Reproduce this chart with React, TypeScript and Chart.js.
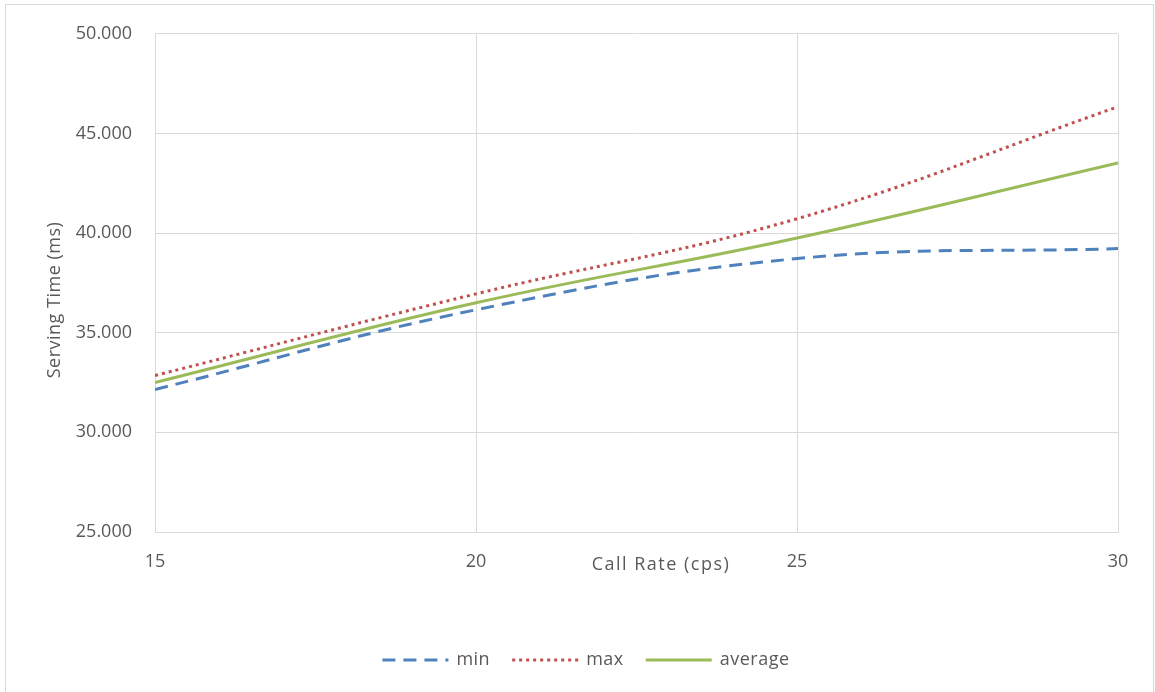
import React, { useEffect, useRef } from "react";
import { Chart, registerables } from "chart.js";

Chart.register(...registerables);

// Call rate (cps) and serving time (ms) per series
const callRates = [15, 20, 25, 30];
const minTimes = [32.15, 36.15, 38.72, 39.22];
const maxTimes = [32.85, 36.95, 40.72, 46.34];
const averageTimes = [32.5, 36.5, 39.75, 43.52];

const xTicks = [15, 20, 25, 30];
const yMin = 25;
const yMax = 50;
const yStep = 5;

const xTitle = "Call Rate (cps)";
const yTitle = "Serving Time (ms)";

const FONT = "'Open Sans', 'DejaVu Sans', sans-serif";
const TEXT_COLOR = "#595959";
const GRID_COLOR = "#D9D9D9";

const BLUE = "#4F81BD";
const RED = "#C0504D";
const GREEN = "#9BBB59";

const seriesDefs = [
  { label: "min", data: minTimes, color: BLUE, dash: [13, 8] },
  { label: "max", data: maxTimes, color: RED, dash: [3, 4] },
  { label: "average", data: averageTimes, color: GREEN, dash: [] as number[] },
];

// Axis titles, outer frame and line-sample legend
const decorPlugin = {
  id: "decor",
  afterDraw(chart: any) {
    const { ctx, chartArea, width, height } = chart;
    ctx.save();

    // outer frame
    ctx.strokeStyle = GRID_COLOR;
    ctx.lineWidth = 1;
    ctx.strokeRect(5.5, 4.5, width - 7, height);

    ctx.fillStyle = TEXT_COLOR;
    ctx.font = `18px ${FONT}`;
    ctx.textBaseline = "middle";

    // x title
    ctx.textAlign = "center";
    ctx.letterSpacing = "1.5px";
    ctx.fillText(xTitle, 661, chartArea.bottom + 33);

    // y title
    ctx.letterSpacing = "0.5px";
    ctx.save();
    ctx.translate(55, 300);
    ctx.rotate(-Math.PI / 2);
    ctx.fillText(yTitle, 0, 0);
    ctx.restore();

    // legend
    const sampleLen = 66;
    const sampleGap = 8;
    const itemGap = 22;
    const widths = seriesDefs.map((s) => sampleLen + sampleGap + ctx.measureText(s.label).width);
    const total = widths.reduce((a, b) => a + b, 0) + itemGap * (seriesDefs.length - 1);
    let x = 586 - total / 2;
    const ly = 660;
    seriesDefs.forEach((s, i) => {
      ctx.beginPath();
      ctx.strokeStyle = s.color;
      ctx.lineWidth = 3;
      ctx.setLineDash(s.dash);
      ctx.moveTo(x, ly);
      ctx.lineTo(x + sampleLen, ly);
      ctx.stroke();
      ctx.setLineDash([]);
      ctx.textAlign = "left";
      ctx.fillStyle = TEXT_COLOR;
      ctx.fillText(s.label, x + sampleLen + sampleGap, ly);
      x += widths[i] + itemGap;
    });

    ctx.restore();
  },
};

export default function App() {
  const canvasRef = useRef<HTMLCanvasElement | null>(null);

  useEffect(() => {
    document.body.style.margin = "0";
    const canvas = canvasRef.current;
    if (!canvas) return;

    const chart = new Chart(canvas, {
      type: "line",
      data: {
        datasets: seriesDefs.map((s) => ({
          label: s.label,
          data: callRates.map((r, i) => ({ x: r, y: s.data[i] })),
          borderColor: s.color,
          backgroundColor: s.color,
          borderWidth: 3,
          borderDash: s.dash,
          borderCapStyle: "butt",
          pointRadius: 0,
          tension: 0.4,
          fill: false,
        })),
      },
      options: {
        animation: false,
        responsive: false,
        layout: { padding: { top: 33, right: 37, left: 0, bottom: 0 } },
        plugins: { legend: { display: false }, tooltip: { enabled: false } },
        scales: {
          x: {
            type: "linear",
            min: xTicks[0],
            max: xTicks[xTicks.length - 1],
            afterFit: (scale: any) => {
              scale.height = 160;
            },
            afterBuildTicks: (scale: any) => {
              scale.ticks = xTicks.map((v) => ({ value: v }));
            },
            grid: { color: GRID_COLOR, drawTicks: false, lineWidth: 1 },
            border: { color: GRID_COLOR },
            ticks: {
              padding: 19,
              color: TEXT_COLOR,
              font: { family: FONT, size: 18 },
              callback: (v: any) => String(v),
            },
          },
          y: {
            min: yMin,
            max: yMax,
            afterFit: (scale: any) => {
              scale.width = 155;
            },
            grid: { color: GRID_COLOR, drawTicks: false, lineWidth: 1 },
            border: { display: false },
            ticks: {
              stepSize: yStep,
              padding: 23,
              color: TEXT_COLOR,
              font: { family: FONT, size: 18 },
              callback: (v: any) => Number(v).toFixed(3),
            },
          },
        },
      },
      plugins: [decorPlugin],
    });

    return () => chart.destroy();
  }, []);

  return (
    <div style={{ width: 1155, height: 692, background: "#fff" }}>
      <canvas ref={canvasRef} width={1155} height={692} style={{ display: "block" }} />
    </div>
  );
}
